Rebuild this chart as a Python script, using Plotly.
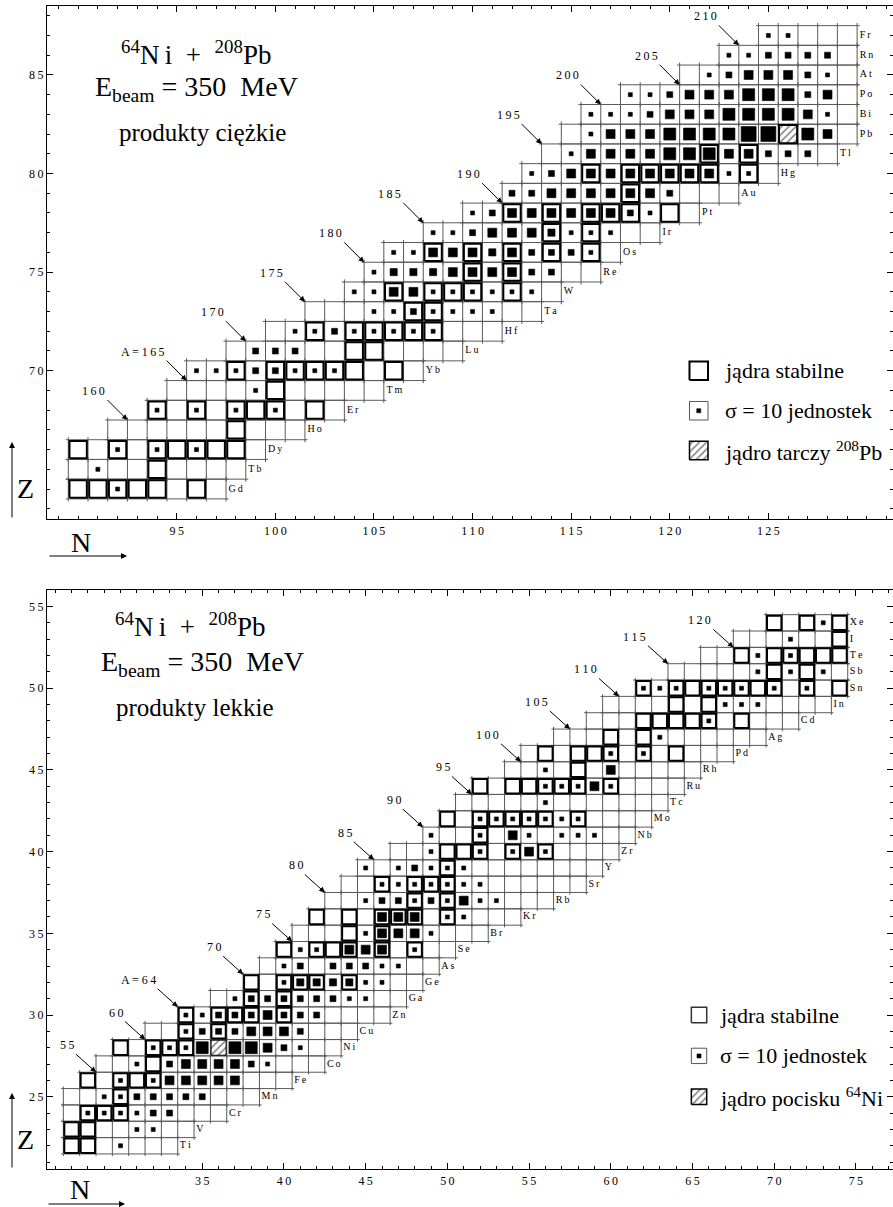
import math
import plotly.graph_objects as go

W, H = 893, 1207

# size classes of the cross-section squares (sigma, arbitrary units; legend square = 10)
S, M, ML, L, XL, XXL = 10, 22, 32, 50, 90, 140

# ---------------- heavy products (upper panel) ----------------
HEAVY_ROWS = [  # (Z, element, first N, last N)
    (64, "Gd", 90, 97), (65, "Tb", 90, 98), (66, "Dy", 90, 99), (67, "Ho", 92, 101),
    (68, "Er", 94, 103), (69, "Tm", 95, 105), (70, "Yb", 96, 107), (71, "Lu", 98, 109),
    (72, "Hf", 100, 111), (73, "Ta", 102, 113), (74, "W", 104, 114), (75, "Re", 105, 116),
    (76, "Os", 106, 117), (77, "Ir", 108, 119), (78, "Pt", 110, 121), (79, "Au", 112, 123),
    (80, "Hg", 113, 125), (81, "Tl", 114, 128), (82, "Pb", 115, 129), (83, "Bi", 116, 129),
    (84, "Po", 118, 129), (85, "At", 121, 129), (86, "Rn", 123, 129), (87, "Fr", 125, 129),
]
HEAVY_STABLE = {
    64: [90, 91, 92, 93, 94, 96], 65: [94], 66: [90, 92, 94, 95, 96, 97, 98], 67: [98],
    68: [94, 96, 98, 99, 100, 102], 69: [100], 70: [98, 100, 101, 102, 103, 104, 106],
    71: [104, 105], 72: [102, 104, 105, 106, 107, 108], 73: [107, 108],
    74: [106, 108, 109, 110, 112], 75: [110, 112], 76: [108, 110, 112, 114, 116],
    77: [114, 116], 78: [112, 114, 116, 117, 118, 120], 79: [118],
    80: [116, 118, 119, 120, 121, 122, 124], 81: [122, 124],
}
HEAVY_SIGMA = {
    64: [(92, S)],
    65: [(91, S)],
    66: [(92, S), (94, S), (96, S)],
    68: [(94, S), (96, S), (98, S), (100, S)],
    69: [(99, S)],
    70: [(96, S), (97, S), (98, S), (99, M), (100, M), (101, S), (102, S), (103, S)],
    71: [(99, M), (100, M), (101, M)],
    72: [(101, S), (102, S), (103, M), (104, S), (105, S), (106, S), (107, S), (108, S)],
    73: [(105, S), (106, S), (107, M), (108, S), (109, S), (110, S), (111, S)],
    74: [(104, S), (105, S), (106, L), (107, L), (108, S), (109, S), (110, S), (111, S), (112, S), (113, S)],
    75: [(105, S), (106, ML), (107, ML), (108, ML), (109, L), (110, L), (111, L), (112, L), (113, M), (114, M)],
    76: [(106, S), (107, S), (108, L), (109, L), (110, L), (111, ML), (112, L), (113, M), (114, M), (115, M), (116, S)],
    77: [(108, S), (109, S), (110, M), (111, L), (112, L), (113, L), (114, ML), (115, S), (116, S), (117, S)],
    78: [(110, S), (111, M), (112, L), (113, L), (114, L), (115, L), (116, L), (117, L), (118, M), (119, S)],
    79: [(112, M), (113, M), (114, L), (115, L), (116, L), (117, L), (118, L), (119, L), (120, M)],
    80: [(113, S), (114, M), (115, L), (116, L), (117, L), (118, L), (119, L), (120, L), (121, L),
         (122, L), (123, S), (124, S)],
    81: [(115, S), (116, L), (117, L), (118, L), (119, L), (120, XL), (121, XL), (122, XL), (123, L),
         (124, L), (125, M), (126, M), (127, M)],
    82: [(116, S), (117, L), (118, L), (119, L), (120, XL), (121, XL), (122, XL), (123, XL), (124, XXL),
         (125, XXL), (127, XL), (128, L)],
    83: [(116, S), (117, S), (118, S), (119, M), (120, L), (121, L), (122, L), (123, XL), (124, XL),
         (125, XL), (126, XL), (127, L), (128, S)],
    84: [(118, S), (119, S), (120, M), (121, L), (122, L), (123, L), (124, XL), (125, XL), (126, XL),
         (127, M), (128, L)],
    85: [(122, S), (123, M), (124, L), (125, L), (126, L), (127, M), (128, S)],
    86: [(123, S), (124, S), (125, M), (126, M), (127, M), (128, M)],
    87: [(125, S), (126, S)],
}
HEAVY_TARGET = (126, 82)        # 208Pb (N, Z)
HEAVY_ISOBARS = [(160, 67), (165, 69), (170, 71), (175, 73), (180, 75), (185, 77),
                 (190, 78), (195, 81), (200, 83), (205, 84), (210, 86)]   # (A, Z of marked cell)
HEAVY_A_LABELLED = 165

# ---------------- light products (lower panel) ----------------
LIGHT_ROWS = [
    (22, "Ti", 27, 33), (23, "V", 27, 34), (24, "Cr", 27, 36), (25, "Mn", 27, 38),
    (26, "Fe", 28, 40), (27, "Co", 29, 42), (28, "Ni", 30, 43), (29, "Cu", 32, 44),
    (30, "Zn", 34, 46), (31, "Ga", 36, 47), (32, "Ge", 38, 48), (33, "As", 39, 49),
    (34, "Se", 40, 50), (35, "Br", 41, 52), (36, "Kr", 42, 54), (37, "Rb", 43, 56),
    (38, "Sr", 44, 58), (39, "Y", 45, 59), (40, "Zr", 47, 60), (41, "Nb", 49, 61),
    (42, "Mo", 50, 62), (43, "Tc", 51, 63), (44, "Ru", 52, 64), (45, "Rh", 54, 65),
    (46, "Pd", 55, 67), (47, "Ag", 57, 69), (48, "Cd", 59, 71), (49, "In", 60, 73),
    (50, "Sn", 62, 74), (51, "Sb", 64, 74), (52, "Te", 66, 74), (53, "I", 68, 74),
    (54, "Xe", 70, 74),
]
LIGHT_STABLE = {
    22: [27, 28], 23: [27, 28], 24: [28, 29, 30], 25: [30], 26: [28, 30, 31, 32], 27: [32],
    28: [30, 32, 33, 34], 29: [34, 36], 30: [34, 36, 37, 38, 40], 31: [38, 40],
    32: [38, 40, 41, 42, 44], 34: [40, 42, 43, 44, 46, 48], 35: [44, 46],
    36: [42, 44, 46, 47, 48, 50], 37: [48, 50], 38: [46, 48, 49, 50], 39: [50],
    40: [50, 51, 52, 54, 56], 41: [52], 42: [50, 52, 53, 54, 55, 56, 58],
    44: [52, 54, 55, 56, 57, 58, 60], 45: [58], 46: [56, 58, 59, 60, 62, 64], 47: [60, 62],
    48: [62, 63, 64, 65, 66, 68], 49: [64, 66], 50: [62, 64, 65, 66, 67, 68, 69, 70, 72, 74],
    51: [70, 72], 52: [68, 70, 71, 72, 73, 74], 53: [74], 54: [70, 72, 74],
}
LIGHT_SIGMA = {
    22: [(30, S)],
    23: [(31, S), (32, S)],
    24: [(28, S), (29, S), (30, S), (31, S), (32, M), (33, M)],
    25: [(29, S), (30, S), (31, M), (32, M), (33, M), (34, M), (35, M)],
    26: [(30, S), (32, S), (33, L), (34, L), (35, L), (36, L), (37, L)],
    27: [(31, S), (33, M), (34, L), (35, L), (36, L), (37, L), (38, M), (39, S)],
    28: [(32, S), (33, S), (34, S), (35, XL), (37, XL), (38, XL), (39, L), (40, M), (41, S)],
    29: [(34, S), (35, M), (36, M), (37, M), (38, L), (39, L), (40, L), (41, M)],
    30: [(34, S), (35, S), (36, M), (37, M), (38, M), (39, L), (40, M), (41, M), (42, M)],
    31: [(37, S), (38, M), (39, M), (40, M), (41, M), (42, M), (43, M), (44, S), (45, S)],
    32: [(40, S), (41, ML), (42, ML), (43, ML), (44, ML), (45, S), (46, S)],
    33: [(40, S), (41, M), (43, M), (44, M), (45, M), (46, S), (47, S)],
    34: [(41, S), (42, S), (44, L), (45, L), (46, L), (48, S)],
    35: [(45, S), (46, L), (47, L), (48, L), (49, S)],
    36: [(46, L), (47, L), (48, L), (50, S), (51, S)],
    37: [(45, S), (46, M), (47, M), (48, S), (49, M), (50, S), (51, L), (52, S), (53, S)],
    38: [(46, S), (47, S), (48, S), (49, S), (50, S), (51, S), (52, S)],
    39: [(45, S), (47, S), (48, M), (49, S), (50, S), (51, S)],
    40: [(49, S), (52, S), (54, S), (55, L), (56, S)],
    41: [(49, S), (52, S), (54, L), (55, S), (57, S), (58, S), (59, S)],
    42: [(52, S), (53, S), (54, S), (55, S), (56, S), (57, S), (58, S)],
    43: [(56, S)],
    44: [(56, S), (57, S), (58, S), (59, L), (60, S)],
    45: [(56, S), (60, L)],
    46: [(60, S), (62, S)],
    47: [(63, S)],
    48: [(66, S)],
    49: [(67, S), (68, S), (69, S)],
    50: [(62, S), (63, S), (64, S), (66, S), (67, S), (68, S), (70, S), (72, S)],
    51: [(69, S), (71, S), (73, S)],
    52: [(69, S), (71, S)],
    53: [(71, S)],
    54: [(73, S)],
}
LIGHT_PROJECTILE = (36, 28)     # 64Ni (N, Z)
LIGHT_ISOBARS = [(55, 26), (60, 28), (64, 30), (70, 32), (75, 34), (80, 37), (85, 39),
                 (90, 41), (95, 43), (100, 45), (105, 47), (110, 49), (115, 51), (120, 52)]
LIGHT_A_LABELLED = 64

SERIF = "Liberation Serif"
THIN = "\u2009"


def spaced(s):
    return THIN.join(list(s))


def sq_path(n, z, half):
    return [n - half, n + half, n + half, n - half, n - half, None], \
           [z - half, z - half, z + half, z + half, z - half, None]


def paper(px, py):
    return px / W, 1 - py / H


fig = go.Figure()
annotations = []


def build_panel(rows, stable, sigma, special, isobars, xa, ya, a_labelled,
                special_thick, leg_n, leg_z, leg_text_n, leg_texts, leg_thick, tip_off):
    xref = "x" if xa == "x" else "x2"
    yref = "y" if ya == "y" else "y2"
    e = 0.13
    gx, gy = [], []
    for z, sym, n0, n1 in rows:
        for zz in (z - 0.5, z + 0.5):
            gx += [n0 - 0.5 - e, n1 + 0.5 + e, None]
            gy += [zz, zz, None]
        for b in range(n0, n1 + 2):
            gx += [b - 0.5, b - 0.5, None]
            gy += [z - 0.5 - e, z + 0.5 + e, None]
    fig.add_trace(go.Scatter(x=gx, y=gy, mode="lines", xaxis=xa, yaxis=ya,
                             line=dict(color="#5a5a5a", width=1), hoverinfo="skip"))
    # element labels
    fig.add_trace(go.Scatter(x=[r[3] + 0.5 + e for r in rows], y=[r[0] for r in rows],
                             text=[spaced(r[1]) for r in rows], mode="text",
                             textposition="middle right", xaxis=xa, yaxis=ya,
                             textfont=dict(family=SERIF, size=10, color="black"),
                             hoverinfo="skip"))
    # stable nuclei
    sx, sy = [], []
    for z, ns in stable.items():
        for n in ns:
            px_, py_ = sq_path(n, z, 0.44)
            sx += px_
            sy += py_
    fig.add_trace(go.Scatter(x=sx, y=sy, mode="lines", xaxis=xa, yaxis=ya,
                             line=dict(color="black", width=2), hoverinfo="skip"))
    # hatched special nucleus
    hx, hy = sq_path(special[0], special[1], 0.46)
    fig.add_trace(go.Scatter(x=hx[:-1], y=hy[:-1], mode="lines", fill="toself", xaxis=xa, yaxis=ya,
                             fillcolor="white",
                             fillpattern=dict(shape="/", fgcolor="black", bgcolor="white",
                                              size=5, solidity=0.3),
                             line=dict(color="black", width=2 if special_thick else 1),
                             hoverinfo="skip"))
    # cross-section squares
    dx, dy, ds = [], [], []
    for z, items in sigma.items():
        for n, s in items:
            dx.append(n)
            dy.append(z)
            ds.append(4.0 * math.sqrt(s / 10.0))
    fig.add_trace(go.Scatter(x=dx, y=dy, mode="markers", xaxis=xa, yaxis=ya, opacity=1,
                             marker=dict(symbol="square", size=ds, color="#000000", opacity=1,
                                         line=dict(width=0.6, color="#000000")),
                             hoverinfo="skip"))
    # legend
    b1x, b1y = sq_path(leg_n, leg_z[0], 0.47)
    fig.add_trace(go.Scatter(x=b1x, y=b1y, mode="lines", xaxis=xa, yaxis=ya,
                             line=dict(color="black" if leg_thick else "#333333",
                                       width=2 if leg_thick else 1.5), hoverinfo="skip"))
    b2x, b2y = sq_path(leg_n, leg_z[1], 0.47)
    fig.add_trace(go.Scatter(x=b2x, y=b2y, mode="lines", xaxis=xa, yaxis=ya,
                             line=dict(color="#555555", width=1), hoverinfo="skip"))
    fig.add_trace(go.Scatter(x=[leg_n], y=[leg_z[1]], mode="markers", xaxis=xa, yaxis=ya,
                             marker=dict(symbol="square", size=4.0 * math.sqrt(S / 10.0),
                                         color="#000000", opacity=1,
                                         line=dict(width=0.6, color="#000000")),
                             hoverinfo="skip"))
    b3x, b3y = sq_path(leg_n, leg_z[2], 0.47)
    fig.add_trace(go.Scatter(x=b3x[:-1], y=b3y[:-1], mode="lines", fill="toself", xaxis=xa,
                             yaxis=ya, fillcolor="white",
                             fillpattern=dict(shape="/", fgcolor="black", bgcolor="white",
                                              size=5, solidity=0.3),
                             line=dict(color="black", width=1.5), hoverinfo="skip"))
    for zz, t in zip(leg_z, leg_texts):
        annotations.append(dict(x=leg_text_n, y=zz, xref=xref, yref=yref, text=t,
                                showarrow=False, xanchor="left", yanchor="middle",
                                font=dict(family=SERIF, size=22, color="black")))
    # isobar arrows
    for a, z in isobars:
        n = a - z
        lab = spaced(str(a))
        if a == a_labelled:
            lab = "A = " + spaced(str(a))
        annotations.append(dict(x=n - 0.5, y=z + 0.5, xref=xref, yref=yref, text=lab,
                                showarrow=True, ax=tip_off[0], ay=tip_off[1],
                                xanchor="right", yanchor="bottom",
                                arrowhead=2, arrowsize=1.1, arrowwidth=1, arrowcolor="black",
                                font=dict(family=SERIF, size=12, color="black")))


build_panel(HEAVY_ROWS, HEAVY_STABLE, HEAVY_SIGMA, HEAVY_TARGET, HEAVY_ISOBARS, "x", "y",
            HEAVY_A_LABELLED, True, 121.47, [70.0, 67.97, 65.95], 122.69,
            ["jądra stabilne", "σ = 10 jednostek", "jądro tarczy <sup>208</sup>Pb"], True,
            (-20, -20))
build_panel(LIGHT_ROWS, LIGHT_STABLE, LIGHT_SIGMA, LIGHT_PROJECTILE, LIGHT_ISOBARS, "x2", "y2",
            LIGHT_A_LABELLED, False, 65.4, [30.0, 27.5, 25.0], 66.58,
            ["jądra stabilne", "σ = 10 jednostek", "jądro pocisku <sup>64</sup>Ni"], False,
            (-20, -18))

# titles
TITLES = [
    (196, 53, "<sup>64</sup>N" + THIN + "i  +  <sup>208</sup>Pb", 27),
    (196, 88, "E<sub>beam</sub> = 350  MeV", 28),
    (202, 133, "produkty ciężkie", 25),
    (190, 625, "<sup>64</sup>N" + THIN + "i  +  <sup>208</sup>Pb", 27),
    (202, 663, "E<sub>beam</sub> = 350  MeV", 28),
    (195, 707, "produkty lekkie", 25),
]
for px_, py_, t, fs in TITLES:
    xx, yy = paper(px_, py_)
    annotations.append(dict(x=xx, y=yy, xref="paper", yref="paper", text=t, showarrow=False,
                            xanchor="center", yanchor="middle",
                            font=dict(family=SERIF, size=fs, color="black")))

# Z / N axis arrows and letters
for (lx, ly, letter) in [(25, 489, "Z"), (81, 542, "N"), (25, 1139, "Z"), (80, 1189, "N")]:
    xx, yy = paper(lx, ly)
    annotations.append(dict(x=xx, y=yy, xref="paper", yref="paper", text=letter,
                            showarrow=False, xanchor="center", yanchor="middle",
                            font=dict(family=SERIF, size=28, color="black")))
for (tx, ty, ax, ay) in [(12, 442, 0, 77), (127, 556, -79, 0), (12, 1093, 0, 76), (125, 1204, -78, 0)]:
    xx, yy = paper(tx, ty)
    annotations.append(dict(x=xx, y=yy, xref="paper", yref="paper", text="", showarrow=True,
                            ax=ax, ay=ay, arrowhead=2, arrowsize=1.2, arrowwidth=1,
                            arrowcolor="black"))


def axis(domain, rng, vals, anchor):
    return dict(domain=domain, range=rng, anchor=anchor, showgrid=False, zeroline=False,
                showline=True, linecolor="black", linewidth=1.3, mirror="ticks",
                ticks="inside", ticklen=6, tickwidth=1, tickcolor="black",
                tickmode="array", tickvals=vals[0], ticktext=vals[1],
                tickfont=dict(family=SERIF, size=12, color="black"),
                minor=dict(ticks="inside", ticklen=3, tickwidth=1, tickcolor="black",
                           tickmode="linear", tick0=0, dtick=1, showgrid=False),
                fixedrange=True, automargin=False)


TOP_X_TICKS = [95, 100, 105, 110, 115, 120, 125]
TOP_Y_TICKS = [70, 75, 80, 85]
BOT_X_TICKS = [35, 40, 45, 50, 55, 60, 65, 70, 75]
BOT_Y_TICKS = [25, 30, 35, 40, 45, 50, 55]


def labels(vals):
    return [vals, [spaced(str(v)) for v in vals]]


fig.update_layout(
    width=W, height=H, margin=dict(l=0, r=0, t=0, b=0, pad=0),
    paper_bgcolor="white", plot_bgcolor="white", showlegend=False,
    xaxis=axis([47 / W, 1.0], [88.42, 131.32], labels(TOP_X_TICKS), "y"),
    yaxis=axis([1 - 519 / H, 1 - 5.7 / H], [62.48, 88.51], labels(TOP_Y_TICKS), "x"),
    xaxis2=axis([47 / W, 1.0], [25.50, 77.27], labels(BOT_X_TICKS), "y2"),
    yaxis2=axis([1 - 1169.3 / H, 1 - 590 / H], [20.56, 56.01], labels(BOT_Y_TICKS), "x2"),
    annotations=annotations,
)

fig.write_html("out.html")
